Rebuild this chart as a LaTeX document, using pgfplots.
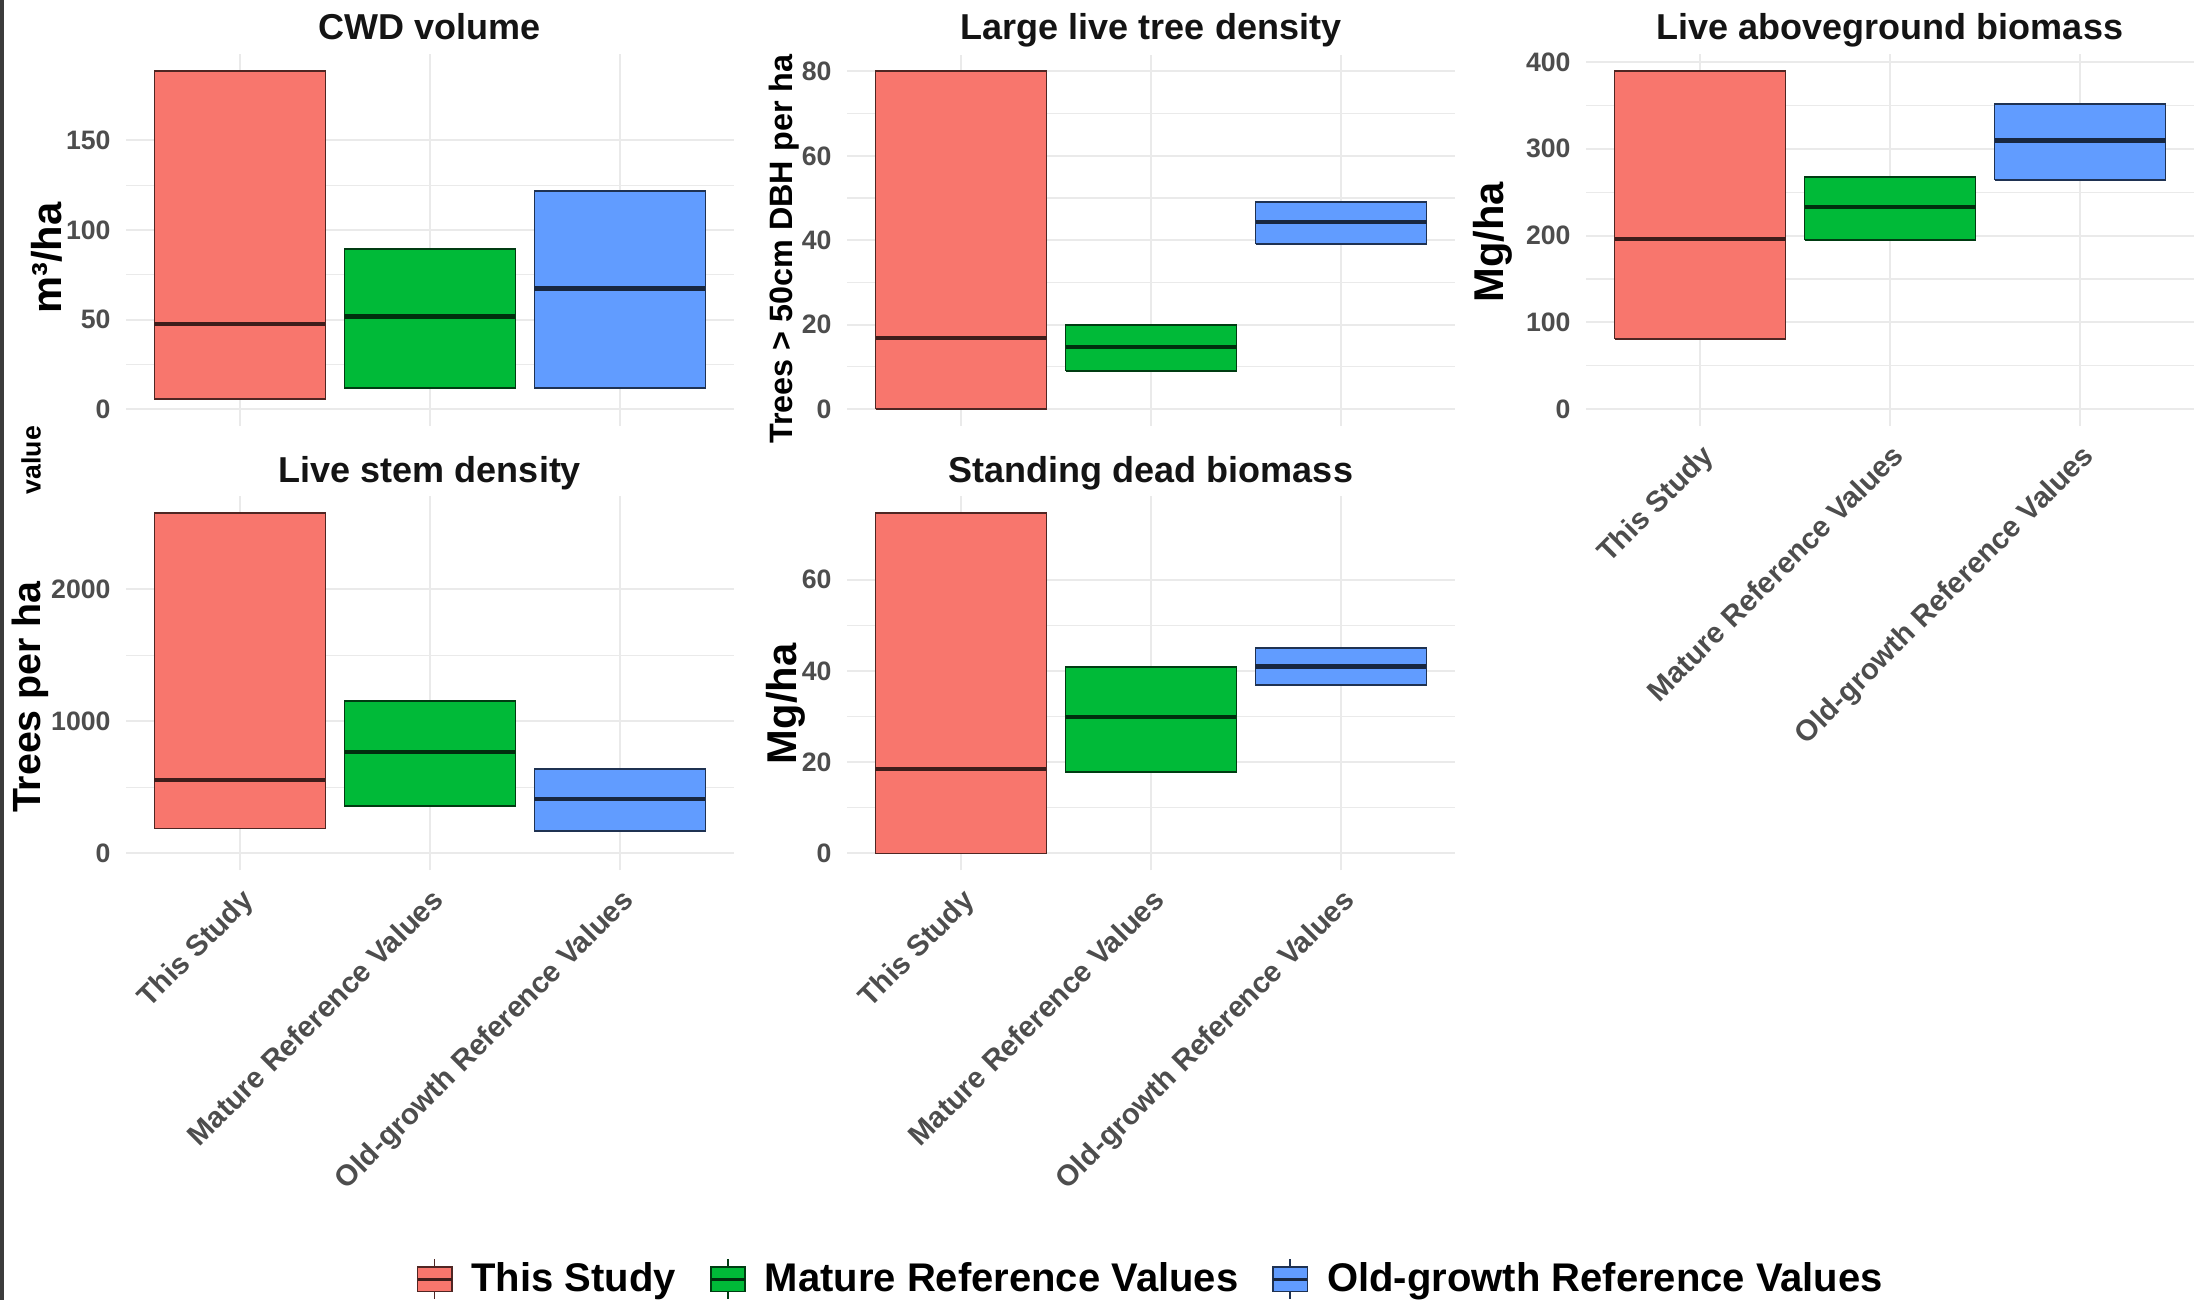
\documentclass[border=0pt]{standalone}
\usepackage{fontspec}
\setmainfont{Liberation Sans}
\usepackage{pgfplots}
\pgfplotsset{compat=1.18}
\definecolor{cRed}{HTML}{F8766D}
\definecolor{cGreen}{HTML}{00BA38}
\definecolor{cBlue}{HTML}{619CFF}
\definecolor{tickgrey}{HTML}{4D4D4D}
\definecolor{gridgrey}{HTML}{EAEAEA}
\definecolor{framegrey}{HTML}{3C3C3C}

\pgfplotsset{
  panel/.style={
    scale only axis, width=182.4pt,
    xmin=0.4, xmax=3.6, xtick={1,2,3},
    axis line style={draw=none},
    major tick length=0pt, minor tick length=0pt,
    grid=both,
    major grid style={gridgrey, line width=0.6pt},
    minor grid style={gridgrey, line width=0.35pt},
    minor y tick num=1,
    /pgf/number format/assume math mode=true,
    /pgf/number format/1000 sep={},
    scaled y ticks=false,
    yticklabel style={font=\fontsize{8}{9}\selectfont\bfseries, color=tickgrey, xshift=-1.1pt},
    title style={font=\fontsize{10.8}{13}\selectfont\bfseries, color=black!92, anchor=base, at={(axis description cs:0.5,1)}},
    ylabel style={anchor=center, font=\bfseries},
    clip=false,
  },
  toprow/.style={title style={yshift=-1.5pt}},
  botrow/.style={title style={yshift=-2.1pt}},
  xlabs/.style={xticklabels={This Study, Mature Reference Values, Old-growth Reference Values},
    xticklabel style={rotate=45, anchor=north east, font=\fontsize{8.8}{10}\selectfont\bfseries, color=tickgrey}},
  nolabs/.style={xticklabels={}},
  cbar/.style={fill=#1, draw=#1!32!black, line width=0.55pt, line join=miter,
    legend image code/.code={
      \draw[draw=#1!32!black, line width=0.5pt] (0.18cm,-0.21cm) -- (0.18cm,0.21cm);
      \filldraw[fill=#1, draw=#1!32!black, line width=0.5pt] (0cm,-0.13cm) rectangle (0.36cm,0.13cm);
      \draw[draw=#1!25!black, line width=0.9pt] (0cm,0cm) -- (0.36cm,0cm);
    }},
  cmed/.style={forget plot, draw=#1!25!black, line width=1.3pt},
}

\begin{document}
\begin{tikzpicture}
\useasboundingbox (0,0) rectangle (659.7pt,390pt);
\fill[framegrey] (0,0) rectangle (1.2pt,390pt);
\node[rotate=90, font=\fontsize{8}{9}\selectfont\bfseries] at (9.3pt,252pt) {value};

% ---------- CWD volume
\begin{axis}[panel, toprow, nolabs, at={(37.8pt,262.2pt)}, anchor=south west, height=111.45pt,
  ymin=-9.43, ymax=198.03, ytick={0,50,100,150},
  title={CWD volume},
  ylabel={m³/ha}, ylabel style={font=\fontsize{12.5}{14}\selectfont\bfseries, at={(axis description cs:-0.130,0.452)}}]
\addplot[cbar=cRed]   coordinates {(0.55,5.8) (1.45,5.8) (1.45,188.6) (0.55,188.6) (0.55,5.8)};
\addplot[cmed=cRed]   coordinates {(0.55,47.4) (1.45,47.4)};
\addplot[cbar=cGreen] coordinates {(1.55,11.7) (2.45,11.7) (2.45,89.2) (1.55,89.2) (1.55,11.7)};
\addplot[cmed=cGreen] coordinates {(1.55,51.7) (2.45,51.7)};
\addplot[cbar=cBlue]  coordinates {(2.55,11.7) (3.45,11.7) (3.45,121.9) (2.55,121.9) (2.55,11.7)};
\addplot[cmed=cBlue]  coordinates {(2.55,67.3) (3.45,67.3)};
\end{axis}

% ---------- Large live tree density
\begin{axis}[panel, toprow, nolabs, at={(254.1pt,262.2pt)}, anchor=south west, height=111.45pt,
  ymin=-4, ymax=84, ytick={0,20,40,60,80},
  title={Large live tree density},
  ylabel={Trees > 50cm DBH per ha}, ylabel style={font=\fontsize{9.7}{11}\selectfont\bfseries, at={(axis description cs:-0.104,0.476)}}]
\addplot[cbar=cRed]   coordinates {(0.55,0) (1.45,0) (1.45,80) (0.55,80) (0.55,0)};
\addplot[cmed=cRed]   coordinates {(0.55,16.8) (1.45,16.8)};
\addplot[cbar=cGreen] coordinates {(1.55,9.1) (2.45,9.1) (2.45,19.9) (1.55,19.9) (1.55,9.1)};
\addplot[cmed=cGreen] coordinates {(1.55,14.7) (2.45,14.7)};
\addplot[cbar=cBlue]  coordinates {(2.55,39.1) (3.45,39.1) (3.45,49.0) (2.55,49.0) (2.55,39.1)};
\addplot[cmed=cBlue]  coordinates {(2.55,44.4) (3.45,44.4)};
\end{axis}

% ---------- Live aboveground biomass
\begin{axis}[panel, toprow, xlabs, at={(475.8pt,262.2pt)}, anchor=south west, height=111.45pt,
  ymin=-19.47, ymax=408.77, ytick={0,100,200,300,400},
  title={Live aboveground biomass},
  ylabel={Mg/ha}, ylabel style={font=\fontsize{12.5}{14}\selectfont\bfseries, at={(axis description cs:-0.153,0.495)}}]
\addplot[cbar=cRed]   coordinates {(0.55,80.9) (1.45,80.9) (1.45,389.3) (0.55,389.3) (0.55,80.9)};
\addplot[cmed=cRed]   coordinates {(0.55,196.4) (1.45,196.4)};
\addplot[cbar=cGreen] coordinates {(1.55,194.8) (2.45,194.8) (2.45,267.3) (1.55,267.3) (1.55,194.8)};
\addplot[cmed=cGreen] coordinates {(1.55,233.2) (2.45,233.2)};
\addplot[cbar=cBlue]  coordinates {(2.55,264.2) (3.45,264.2) (3.45,351.7) (2.55,351.7) (2.55,264.2)};
\addplot[cmed=cBlue]  coordinates {(2.55,309.5) (3.45,309.5)};
\end{axis}

% ---------- Live stem density
\begin{axis}[panel, botrow, xlabs, at={(37.8pt,128.85pt)}, anchor=south west, height=112.35pt,
  ymin=-128.8, ymax=2704.8, ytick={0,1000,2000},
  title={Live stem density},
  ylabel={Trees per ha}, ylabel style={font=\fontsize{11.8}{14}\selectfont\bfseries, at={(axis description cs:-0.158,0.463)}}]
\addplot[cbar=cRed]   coordinates {(0.55,189) (1.45,189) (1.45,2576) (0.55,2576) (0.55,189)};
\addplot[cmed=cRed]   coordinates {(0.55,556) (1.45,556)};
\addplot[cbar=cGreen] coordinates {(1.55,359) (2.45,359) (2.45,1154) (1.55,1154) (1.55,359)};
\addplot[cmed=cGreen] coordinates {(1.55,770) (2.45,770)};
\addplot[cbar=cBlue]  coordinates {(2.55,172) (3.45,172) (3.45,636) (2.55,636) (2.55,172)};
\addplot[cmed=cBlue]  coordinates {(2.55,412) (3.45,412)};
\end{axis}

% ---------- Standing dead biomass
\begin{axis}[panel, botrow, xlabs, at={(254.1pt,128.85pt)}, anchor=south west, height=112.35pt,
  ymin=-3.73, ymax=78.33, ytick={0,20,40,60},
  title={Standing dead biomass},
  ylabel={Mg/ha}, ylabel style={font=\fontsize{12.5}{14}\selectfont\bfseries, at={(axis description cs:-0.100,0.445)}},
  legend columns=3,
  legend style={draw=none, fill=none, font=\fontsize{12}{14}\selectfont\bfseries,
    at={(axis description cs:0.503,-1.091)}, anchor=center,
    /tikz/every even column/.append style={column sep=8pt},
    /tikz/every odd column/.append style={column sep=3.5pt}}]
\addplot[cbar=cRed]   coordinates {(0.55,0) (1.45,0) (1.45,74.6) (0.55,74.6) (0.55,0)};
\addlegendentry{This Study}
\addplot[cmed=cRed]   coordinates {(0.55,18.5) (1.45,18.5)};
\addplot[cbar=cGreen] coordinates {(1.55,17.9) (2.45,17.9) (2.45,40.9) (1.55,40.9) (1.55,17.9)};
\addlegendentry{Mature Reference Values}
\addplot[cmed=cGreen] coordinates {(1.55,29.9) (2.45,29.9)};
\addplot[cbar=cBlue]  coordinates {(2.55,37.0) (3.45,37.0) (3.45,45.1) (2.55,45.1) (2.55,37.0)};
\addlegendentry{Old-growth Reference Values}
\addplot[cmed=cBlue]  coordinates {(2.55,41.0) (3.45,41.0)};
\end{axis}
\end{tikzpicture}
\end{document}
